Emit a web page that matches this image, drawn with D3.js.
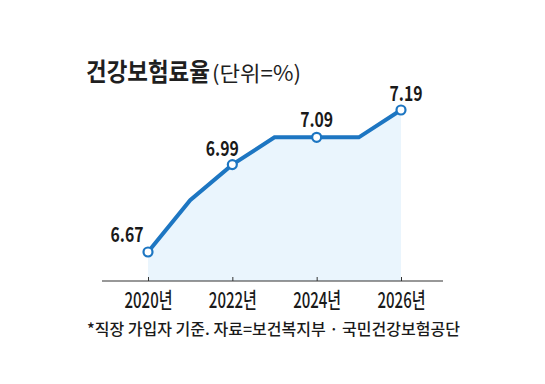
<!DOCTYPE html>
<html><head><meta charset="utf-8">
<script src="https://cdn.jsdelivr.net/npm/d3@7"></script>
<style>body{margin:0;background:#fff}svg{display:block}</style>
</head><body>
<svg id="c" width="545" height="384"></svg>
<script>
const years = [2020, 2021, 2022, 2023, 2024, 2025, 2026];
const rates = [6.67, 6.86, 6.99, 7.09, 7.09, 7.09, 7.19];
const markedYears = [2020, 2022, 2024, 2026];
const tickLabels = ["2020년", "2022년", "2024년", "2026년"];
const title = "건강보험료율";
const unit = "(단위=%)";
const note = "*직장 가입자 기준. 자료=보건복지부 · 국민건강보험공단";

const svg = d3.select("#c");
const font = "'Noto Sans CJK KR', 'Noto Sans', sans-serif";
const x = d3.scaleLinear().domain([2020, 2026]).range([148, 401]);
const y = d3.scaleLinear().domain([6.67, 7.19]).range([252, 110]);
const baseY = 281;
const data = years.map((yr, i) => ({yr, v: rates[i]}));

// text squeezed horizontally with a transform so its box matches its glyphs
function squeezed(px, py, str, size, weight, width) {
  const g = svg.append("g");
  const tx = g.append("text").attr("font-family", font).attr("font-size", size)
    .attr("font-weight", weight).attr("fill", "#1f1f1f").text(str);
  const natural = tx.node().getComputedTextLength();
  g.attr("transform", `translate(${px},${py}) scale(${width / natural},1)`);
  return tx;
}

// area
svg.append("path").datum(data)
  .attr("d", d3.area().x(d => x(d.yr)).y0(baseY).y1(d => y(d.v)))
  .attr("fill", "#eaf5fd");

// axis
const axis = d3.axisBottom(x).tickValues(markedYears).tickSize(-4).tickFormat((d, i) => tickLabels[i]);
const ag = svg.append("g").attr("transform", `translate(0,${baseY})`).call(axis);
ag.select(".domain").remove();
ag.append("line").attr("x1", 102).attr("x2", 443).attr("stroke", "#333").attr("stroke-width", 1.2);
ag.selectAll(".tick line").attr("stroke", "#333");
ag.selectAll(".tick text").attr("font-family", font).attr("font-size", 22).attr("font-weight", 500)
  .attr("fill", "#1a1a1a").attr("dy", null).attr("y", 27)
  .attr("textLength", 48).attr("lengthAdjust", "spacingAndGlyphs");

// line
svg.append("path").datum(data)
  .attr("d", d3.line().x(d => x(d.yr)).y(d => y(d.v)))
  .attr("fill", "none").attr("stroke", "#1d76c2").attr("stroke-width", 4).attr("stroke-linejoin", "miter");

const marked = data.filter(d => markedYears.includes(d.yr));
svg.selectAll("circle.m").data(marked).enter().append("circle")
  .attr("cx", d => x(d.yr)).attr("cy", d => y(d.v)).attr("r", 4.5)
  .attr("fill", "#fff").attr("stroke", "#1d76c2").attr("stroke-width", 2.2);

// value labels
const offs = {2020: [-21, -10], 2022: [-10, -9], 2024: [0, -10], 2026: [5, -9]};
svg.selectAll("text.v").data(marked).enter().append("text")
  .attr("x", d => x(d.yr) + offs[d.yr][0] - 16.5).attr("y", d => y(d.v) + offs[d.yr][1])
  .attr("font-family", font).attr("font-size", 20).attr("font-weight", 700)
  .attr("textLength", 33).attr("lengthAdjust", "spacingAndGlyphs").attr("fill", "#1a1a1a")
  .text(d => d.v.toFixed(2));

// title
squeezed(86, 81, title, 25, 700, 124);
squeezed(212, 81, unit, 21, 400, 89);

// note
svg.append("text").attr("x", 87).attr("y", 335).attr("font-family", font).attr("font-size", 16)
  .attr("font-weight", 500).attr("fill", "#1a1a1a")
  .attr("textLength", 373).attr("lengthAdjust", "spacingAndGlyphs").text(note);
</script>
</body></html>
